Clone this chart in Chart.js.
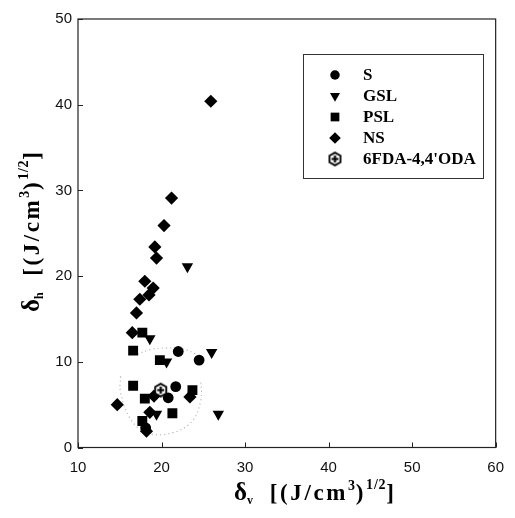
<!DOCTYPE html>
<html>
<head>
<meta charset="utf-8">
<script src="https://cdn.jsdelivr.net/npm/chart.js@4.4.1/dist/chart.umd.min.js"></script>
<style>
  html, body { margin: 0; padding: 0; background: #fff; }
  #wrap { width: 515px; height: 518px; }
</style>
</head>
<body>
<div id="wrap"><canvas id="grafica"></canvas></div>
<script>
// datos: [delta_v, delta_h]
var S = [
    [22.0, 11.2], [24.5, 10.2], [21.7, 7.1], [20.8, 5.8], [18.1, 2.3]
];
var GSL = [
    [23.1, 21.1], [18.6, 12.7], [26.0, 11.1], [20.6, 10.0], [19.4, 3.9], [26.8, 3.9]
];
var PSL = [
    [17.7, 13.4], [16.6, 11.3], [19.8, 10.2], [16.6, 7.2],
    [23.7, 6.7], [18.0, 5.7], [21.3, 4.0], [17.7, 3.1]
];
var NS = [
    [25.9, 40.4], [21.2, 29.1], [20.3, 25.9], [19.2, 23.4], [19.4, 22.1],
    [18.0, 19.4], [19.0, 18.6], [18.5, 17.8], [17.4, 17.3], [17.0, 15.7],
    [16.5, 13.4], [23.4, 5.9], [19.1, 6.0], [14.7, 5.0], [18.6, 4.1], [18.2, 1.9]
];
var ODA = [
    [19.9, 6.7]
];
// contornos punteados (a mano en el original)
var zonaArriba = [
    [17.1, 10.9], [18.6, 11.4], [20.5, 11.6], [22.6, 11.5], [24.1, 10.9]
];
var zonaAbajo = [
    [15.1, 8.3], [15.1, 6.4], [16.3, 3.3], [18.3, 1.7], [21.2, 1.7],
    [23.6, 3.0], [24.7, 5.5], [24.7, 7.9]
];
var xTicks = [10, 20, 30, 40, 50, 60];
var yTicks = [0, 10, 20, 30, 40, 50];
var nombres = ['S', 'GSL', 'PSL', 'NS', '6FDA-4,4\'ODA'];

function puntos(arr) {
    return arr.map(function (p) { return { x: p[0], y: p[1] }; });
}

// simbolo del 6FDA: hexagono abierto con una cruz
function simboloODA(r) {
    var c = document.createElement('canvas');
    var s = Math.ceil(r * 2 + 4);
    c.width = s; c.height = s;
    var g = c.getContext('2d');
    var m = s / 2;
    g.beginPath();
    for (var i = 0; i < 6; i++) {
        var a = Math.PI / 6 + i * Math.PI / 3;
        var px = m + r * Math.cos(a), py = m + r * Math.sin(a);
        if (i === 0) g.moveTo(px, py); else g.lineTo(px, py);
    }
    g.closePath();
    g.fillStyle = '#fff';
    g.fill();
    g.lineWidth = 1.8;
    g.strokeStyle = '#000';
    g.stroke();
    g.lineWidth = 2.2;
    g.beginPath();
    g.moveTo(m - r * 0.55, m); g.lineTo(m + r * 0.55, m);
    g.moveTo(m, m - r * 0.55); g.lineTo(m, m + r * 0.55);
    g.stroke();
    return c;
}

var estilos = [
    { pointStyle: 'circle', radius: 5.4, rotation: 0 },
    { pointStyle: 'triangle', radius: 6.6, rotation: 180 },
    { pointStyle: 'rect', radius: 7.0, rotation: 0 },
    { pointStyle: 'rectRot', radius: 6.6, rotation: 0 },
    { pointStyle: simboloODA(6.4), radius: 7, rotation: 0 }
];
var series = [S, GSL, PSL, NS, ODA];

var conjuntos = series.map(function (arr, i) {
    return {
        label: nombres[i],
        data: puntos(arr),
        pointStyle: estilos[i].pointStyle,
        pointRadius: estilos[i].radius,
        pointRotation: estilos[i].rotation,
        backgroundColor: '#000',
        borderColor: '#000',
        borderWidth: 0,
        showLine: false
    };
}).reverse(); // el 6FDA encima

[zonaArriba, zonaAbajo].forEach(function (z) {
    conjuntos.push({
        label: '',
        data: puntos(z),
        showLine: true,
        borderColor: '#b4b4b4',
        borderWidth: 1.1,
        borderDash: [1.2, 3],
        tension: 0.4,
        pointRadius: 0
    });
});

var datos = { datasets: conjuntos };

// texto con sub/superindices, letra por letra para ajustar el ancho
function textoMixto(ctx, partes, cx, cy, ancho) {
    var fuente = function (p) { return 'bold ' + p.size + 'px "Liberation Serif", "Times New Roman", serif'; };
    var natural = 0, pesos = 0;
    partes.forEach(function (p) {
        ctx.font = fuente(p);
        natural += ctx.measureText(p.t).width;
        pesos += p.t.length * (p.k === undefined ? 1 : p.k);
    });
    var esp = Math.max(0, (ancho - natural) / pesos);
    var x = cx - ancho / 2;
    ctx.textBaseline = 'alphabetic';
    ctx.textAlign = 'left';
    partes.forEach(function (p) {
        ctx.font = fuente(p);
        for (var k = 0; k < p.t.length; k++) {
            var ch = p.t[k];
            ctx.fillText(ch, x, cy + (p.dy || 0));
            x += ctx.measureText(ch).width + esp * (p.k === undefined ? 1 : p.k);
        }
    });
}

function titulo(sub) {
    return [
        { t: 'δ', size: 25, k: 0 }, { t: sub, size: 12, dy: 4, k: 0 }, { t: '  [(J/cm', size: 23 },
        { t: '3', size: 14, dy: -10, k: 0.3 }, { t: ')', size: 23 }, { t: '1/2', size: 14, dy: -11, k: 0.3 },
        { t: ']', size: 23, k: 0 }
    ];
}
var tituloX = titulo('v');
var tituloY = titulo('h');

var extras = {
    id: 'extras',
    afterDraw: function (chart) {
        var ctx = chart.ctx;
        var a = chart.chartArea;
        var xs = chart.scales.x, ys = chart.scales.y;
        ctx.save();
        // marco
        ctx.strokeStyle = '#222';
        ctx.lineWidth = 1.2;
        ctx.strokeRect(a.left, a.top, a.right - a.left, a.bottom - a.top);
        // marcas hacia dentro
        ctx.lineWidth = 1;
        ctx.beginPath();
        xTicks.forEach(function (v) {
            var p = Math.round(xs.getPixelForValue(v)) + 0.5;
            ctx.moveTo(p, a.bottom); ctx.lineTo(p, a.bottom - 5);
        });
        yTicks.forEach(function (v) {
            var p = Math.round(ys.getPixelForValue(v)) + 0.5;
            ctx.moveTo(a.left, p); ctx.lineTo(a.left + 5, p);
        });
        ctx.stroke();

        // leyenda
        var lx = 303, ly = 54, lw = 180, lh = 124;
        ctx.lineWidth = 1;
        ctx.strokeStyle = '#333';
        ctx.strokeRect(lx + 0.5, ly + 0.5, lw, lh);
        ctx.fillStyle = '#000';
        nombres.forEach(function (n, i) {
            var yy = ly + 21 + i * 21;
            var e = estilos[i];
            if (i === 4) {
                ctx.drawImage(e.pointStyle, 335 - e.pointStyle.width / 2, yy - e.pointStyle.height / 2);
            } else {
                Chart.helpers.drawPoint(ctx, {
                    pointStyle: e.pointStyle,
                    radius: e.radius * 0.88,
                    rotation: e.rotation,
                    borderWidth: 0
                }, 335, yy);
            }
            ctx.fillStyle = '#000';
            ctx.font = 'bold 17px "Liberation Serif", "Times New Roman", serif';
            ctx.textBaseline = 'middle';
            ctx.textAlign = 'left';
            ctx.fillText(n, 363, yy + 1);
        });

        // titulos de los ejes
        ctx.fillStyle = '#000';
        textoMixto(ctx, tituloX, 314, 500, 160);
        ctx.translate(39, 232);
        ctx.rotate(-Math.PI / 2);
        textoMixto(ctx, tituloY, 0, 0, 160);
        ctx.restore();
    }
};

var opciones = {
    responsive: true,
    maintainAspectRatio: false,
    animation: false,
    layout: { padding: { top: 19, right: 12, left: 0, bottom: 0 } },
    plugins: {
        legend: { display: false },
        tooltip: { enabled: false }
    },
    scales: {
        x: {
            type: 'linear',
            min: 10, max: 60,
            afterFit: function (s) { s.height = 70.5; },
            afterBuildTicks: function (s) { s.ticks = xTicks.map(function (v) { return { value: v }; }); },
            grid: { display: false, drawTicks: false },
            border: { display: false },
            ticks: {
                padding: 11,
                color: '#111',
                font: { family: '"Liberation Sans", Arial, sans-serif', size: 15 }
            }
        },
        y: {
            type: 'linear',
            min: 0, max: 50,
            afterFit: function (s) { s.width = 78; },
            afterBuildTicks: function (s) { s.ticks = yTicks.map(function (v) { return { value: v }; }); },
            grid: { display: false, drawTicks: false },
            border: { display: false },
            ticks: {
                padding: 6,
                color: '#111',
                font: { family: '"Liberation Sans", Arial, sans-serif', size: 15 }
            }
        }
    }
};

var ctx = document.getElementById('grafica').getContext('2d');
var grafica = new Chart(ctx, {
    type: 'scatter',
    data: datos,
    options: opciones,
    plugins: [extras]
});
</script>
</body>
</html>
